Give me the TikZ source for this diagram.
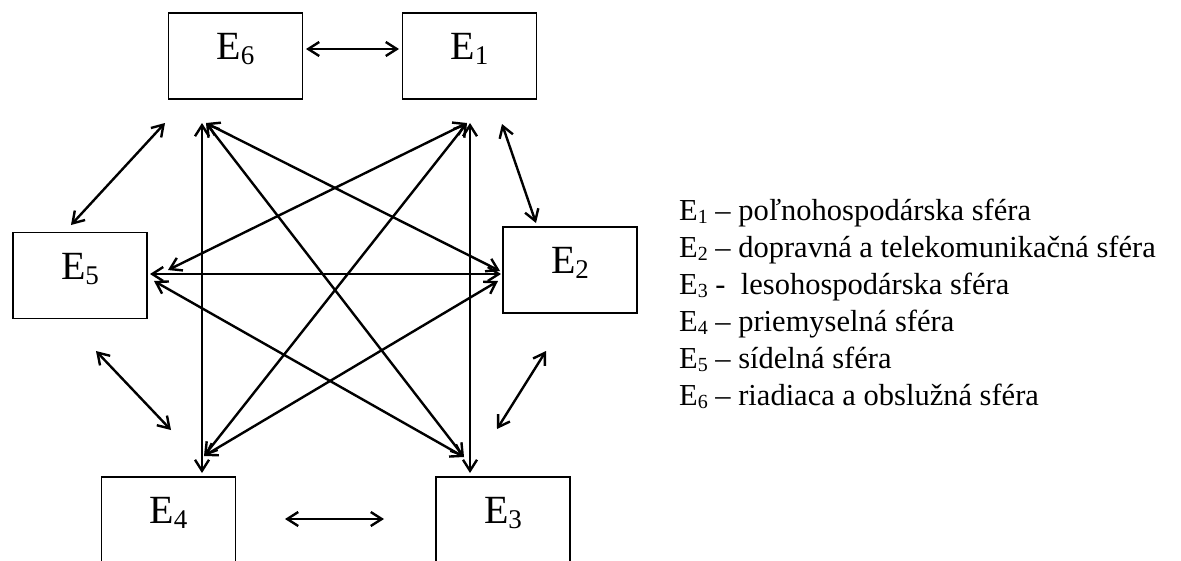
\documentclass[tikz,border=0pt]{standalone}
\usepackage{fontspec}
\setmainfont{Liberation Serif}
\usetikzlibrary{arrows.meta}
% subscripted sphere labels (box size and legend size)
\newcommand{\boxE}[1]{E\raisebox{-5pt}{\fontsize{27}{27}\selectfont #1}}
\newcommand{\keyE}[1]{E\raisebox{-3.5pt}{\fontsize{20}{20}\selectfont #1}}
\begin{document}
\begin{tikzpicture}[x=1pt,y=-1pt,
  sphere/.style={draw, line width=1.7pt, minimum width=134pt, minimum height=86pt,
    inner sep=0pt, text height=23.5pt, text depth=16.5pt,
    font=\fontsize{40}{40}\selectfont},
  link/.style={line width=2.4pt,
    {Straight Barb[length=11pt,width=14pt]}-{Straight Barb[length=11pt,width=14pt]}},
  keyline/.style={anchor=base west, inner sep=0pt, font=\fontsize{30.5}{30.5}\selectfont}]
\useasboundingbox (0,0) rectangle (1181,560);

% the six spheres
\node[sphere] (e6) at (235.5,56)  {\boxE{6}};
\node[sphere] (e1) at (469.5,56)  {\boxE{1}};
\node[sphere] (e5) at (80,275.5)  {\boxE{5}};
\node[sphere] (e2) at (570,270)   {\boxE{2}};
\node[sphere] (e4) at (168.5,520) {\boxE{4}};
\node[sphere] (e3) at (503,520)   {\boxE{3}};

% free ends of the links between neighbouring spheres
\coordinate (n61) at (306,49);  \coordinate (n16) at (399,49);
\coordinate (n56) at (71,225);  \coordinate (n65) at (165,123);
\coordinate (n12) at (502,124); \coordinate (n21) at (536,223);
\coordinate (n54) at (96,351);  \coordinate (n45) at (171,430);
\coordinate (n23) at (546,351); \coordinate (n32) at (497,429);
\coordinate (n43) at (285,519); \coordinate (n34) at (384,519);

% free ends of the crossing links
\coordinate (v6) at (202,123);  \coordinate (v4) at (202,473);
\coordinate (v1) at (470,123);  \coordinate (v3) at (470,473);
\coordinate (h5) at (150,274);  \coordinate (h2) at (501,274);
\coordinate (d6) at (206,123);  \coordinate (d1) at (467,123);
\coordinate (d2a) at (500,271); \coordinate (d2b) at (498,281);
\coordinate (d5a) at (168,270); \coordinate (d5b) at (154,281);
\coordinate (d4) at (204,456);  \coordinate (d3) at (464,457);

% links between neighbours
\draw[link] (n61) -- (n16);
\draw[link] (n56) -- (n65);
\draw[link] (n12) -- (n21);
\draw[link] (n54) -- (n45);
\draw[link] (n23) -- (n32);
\draw[link] (n43) -- (n34);

% crossing links
\draw[link] (v6) -- (v4);
\draw[link] (v1) -- (v3);
\draw[link] (h5) -- (h2);
\draw[link] (d6) -- (d2a);
\draw[link] (d6) -- (d3);
\draw[link] (d1) -- (d5a);
\draw[link] (d1) -- (d4);
\draw[link] (d5b) -- (d3);
\draw[link] (d2b) -- (d4);

% legend
\node[keyline] (k1) at (679,220) {\keyE{1} – poľnohospodárska sféra};
\node[keyline] (k2) at (679,257) {\keyE{2} – dopravná a telekomunikačná sféra};
\node[keyline] (k3) at (679,294) {\keyE{3} -\ \ lesohospodárska sféra};
\node[keyline] (k4) at (679,331) {\keyE{4} – priemyselná sféra};
\node[keyline] (k5) at (679,368) {\keyE{5} – sídelná sféra};
\node[keyline] (k6) at (679,405) {\keyE{6} – riadiaca a obslužná sféra};
\end{tikzpicture}
\end{document}
